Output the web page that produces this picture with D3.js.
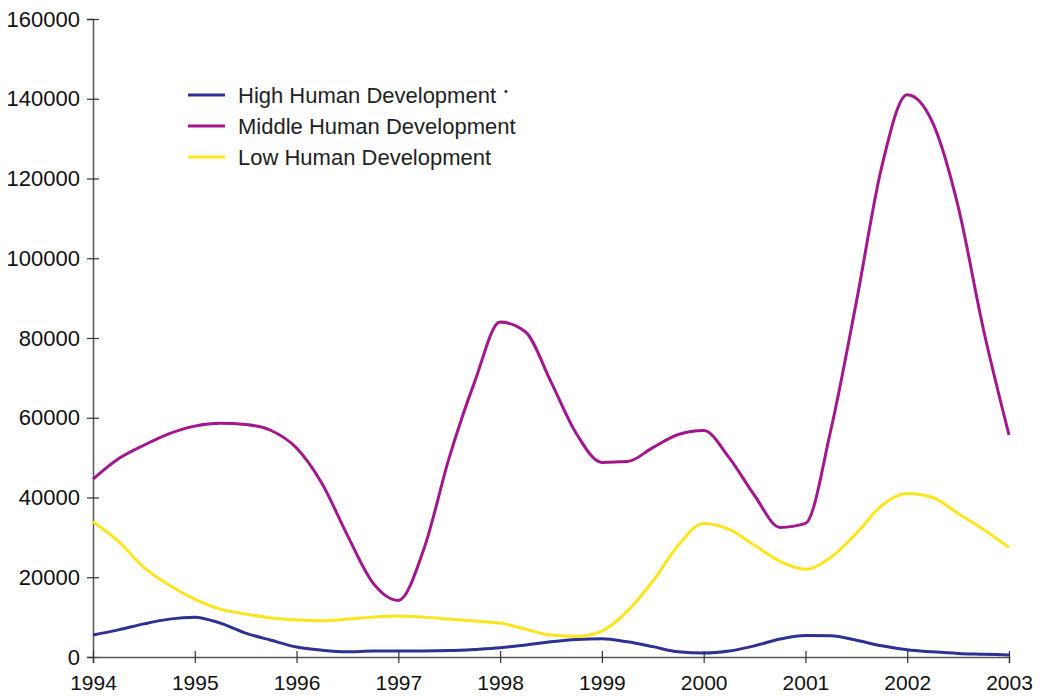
<!DOCTYPE html>
<html>
<head>
<meta charset="utf-8">
<script src="https://cdn.jsdelivr.net/npm/d3@7"></script>
<style>
  body { margin: 0; background: #fff; }
  svg { display: block; font-family: "Liberation Sans", Arial, sans-serif; }
</style>
</head>
<body>
<svg id="chart" width="1043" height="696"></svg>
<script>
// quarterly readings, 1994.00 -> 2003.00
var years = d3.range(0, 37).map(function(i) { return 1994 + i * 0.25; });
var yearTicks = [1994, 1995, 1996, 1997, 1998, 1999, 2000, 2001, 2002, 2003];
var valueTicks = [0, 20000, 40000, 60000, 80000, 100000, 120000, 140000, 160000];

var highValues = [5500, 6800, 8300, 9500, 10000, 8500, 6000, 4200, 2500, 1700, 1300, 1500,
  1500, 1500, 1600, 1900, 2300, 3000, 3800, 4400, 4600, 3800, 2600, 1300, 1000, 1500,
  2800, 4500, 5400, 5300, 4200, 2800, 1800, 1300, 900, 700, 500];
var middleValues = [44600, 49700, 53100, 56000, 57900, 58600, 58300, 56800, 52400, 43500,
  30500, 18600, 14200, 27000, 50000, 69000, 84000, 81500, 69000, 56000, 48800, 49000,
  52500, 55800, 56800, 50000, 40500, 32500, 33500, 57000, 89000, 123000, 141000, 134000,
  113000, 82000, 55700];
var lowValues = [33900, 29000, 22500, 18000, 14500, 12000, 10800, 9800, 9300, 9100, 9500,
  10000, 10300, 10000, 9500, 9000, 8500, 7000, 5500, 5200, 6500, 11500, 19000, 28000,
  33500, 32000, 28000, 24000, 22000, 25000, 31000, 38000, 41000, 40000, 36000, 32000, 27500];

var seriesNames = ['High Human Development', 'Middle Human Development', 'Low Human Development'];
var seriesColors = ['#2e3192', '#a3178e', '#fce51c'];
var seriesValues = [highValues, middleValues, lowValues];

var svg = d3.select('#chart');
var plotLeft = 93, plotRight = 1009, plotTop = 19, plotBottom = 657;

var x = d3.scaleLinear().domain([1994, 2003]).range([plotLeft, plotRight]);
var y = d3.scaleLinear().domain([0, 160000]).range([plotBottom, plotTop]);

var line = d3.line()
    .x(function(d) { return x(d.year); })
    .y(function(d) { return y(d.value); })
    .curve(d3.curveMonotoneX);

// axes
var yAxis = svg.append('g')
    .attr('transform', 'translate(' + plotLeft + ',0)')
    .call(d3.axisLeft(y).tickValues(valueTicks).tickSize(6).tickPadding(7)
      .tickFormat(d3.format('d')));

var xAxis = svg.append('g')
    .attr('transform', 'translate(0,' + plotBottom + ')')
    .call(d3.axisBottom(x).tickValues(yearTicks).tickSize(6).tickPadding(12)
      .tickFormat(d3.format('d')));

yAxis.selectAll('.tick line').attr('x1', 6).attr('x2', -6);
xAxis.selectAll('.tick line').attr('y1', -6).attr('y2', 6);

[yAxis, xAxis].forEach(function(ax) {
  ax.select('.domain').attr('stroke', '#555').attr('stroke-width', 1.5);
  ax.selectAll('.tick line').attr('stroke', '#333').attr('stroke-width', 1.2);
  ax.selectAll('text')
      .attr('fill', '#111')
      .style('font-family', '"Liberation Sans", Arial, sans-serif');
});
yAxis.selectAll('text').style('font-size', '22px');
xAxis.selectAll('text').style('font-size', '21px');

// lines
svg.append('g')
    .attr('class', 'lines')
  .selectAll('path')
  .data(seriesValues)
  .enter().append('path')
    .attr('fill', 'none')
    .attr('stroke', function(d, i) { return seriesColors[i]; })
    .attr('stroke-width', 3)
    .attr('stroke-linejoin', 'round')
    .attr('d', function(vals) {
      return line(vals.map(function(v, i) { return {year: years[i], value: v}; }));
    });

// legend
var legend = svg.append('g')
    .attr('class', 'legend')
    .attr('transform', 'translate(188,95)');

var item = legend.selectAll('g')
  .data(seriesNames)
  .enter().append('g')
    .attr('transform', function(d, i) { return 'translate(0,' + (i * 31) + ')'; });

item.append('line')
    .attr('x1', 0).attr('x2', 37)
    .attr('stroke', function(d, i) { return seriesColors[i]; })
    .attr('stroke-width', 3);

var labels = item.append('text')
    .attr('x', 50)
    .attr('dy', '0.35em')
    .attr('fill', '#222')
    .style('font-size', '22px')
    .text(function(d) { return d; });

labels.filter(function(d, i) { return i === 0; })
  .append('tspan')
    .attr('dx', 8)
    .attr('dy', -8)
    .style('font-size', '11px')
    .text('\u2022');
</script>
</body>
</html>
